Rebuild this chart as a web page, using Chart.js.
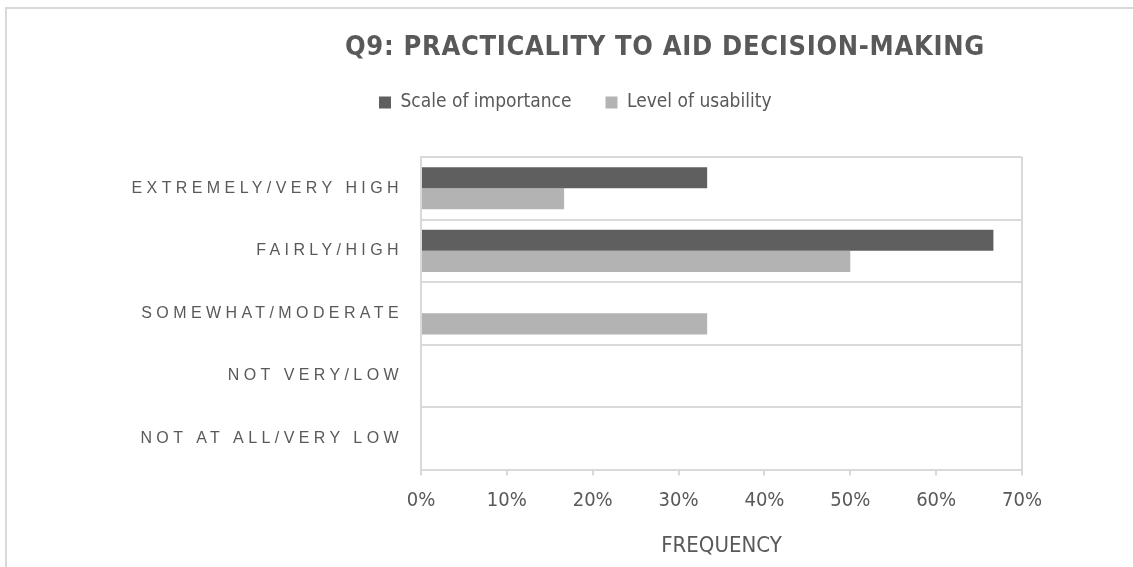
<!DOCTYPE html>
<html>
<head>
<meta charset="utf-8">
<script src="https://cdn.jsdelivr.net/npm/chart.js@4"></script>
<style>
  html, body { margin: 0; padding: 0; background: #fff; overflow: hidden; }
  #wrap { position: relative; width: 1133px; height: 567px; overflow: hidden; }
  #frame { position: absolute; left: 5px; top: 7px; width: 1300px; height: 700px;
           border-left: 2px solid #d9d9d9; border-top: 2px solid #d9d9d9; }
  #myChart { position: absolute; left: 0; top: 0; }
</style>
</head>
<body>
<div id="wrap">
  <div id="frame"></div>
  <canvas id="myChart" width="1133" height="567"></canvas>
</div>
<script>
var categorias = ['EXTREMELY/VERY HIGH', 'FAIRLY/HIGH', 'SOMEWHAT/MODERATE', 'NOT VERY/LOW', 'NOT AT ALL/VERY LOW'];
var importancia = [33.33, 66.67, 0, 0, 0];
var usabilidade = [16.67, 50, 33.33, 0, 0];
var eixo_min = 0;
var eixo_max = 70;
var eixo_passo = 10;

var narrow = "'Liberation Sans Narrow', 'Arial Narrow', 'DejaVu Sans Condensed', sans-serif";
var cinza = '#595959';
var linha = '#d9d9d9';

// letter spacing only for the title and the category labels
function comEspaco(obj, nome, ls){
    if(!obj || obj['_ls_' + nome]) return;
    var orig = obj[nome];
    obj[nome] = function(){
        var c = this.ctx;
        var antes = c.letterSpacing;
        c.letterSpacing = ls;
        orig.apply(this, arguments);
        c.letterSpacing = antes;
    };
    obj['_ls_' + nome] = true;
}

var espacamento = {
    id: 'espacamento',
    beforeDraw: function(chart){
        // labels go past the narrow y box, so no clipping there
        chart.scales.y._computeLabelArea = function(){ return undefined; };
        comEspaco(chart.scales.y, 'drawLabels', '4.4px');
        comEspaco(chart.titleBlock, 'draw', '0.7px');
    }
};

const ctx = document.getElementById('myChart').getContext('2d');
const myChart = new Chart(ctx, {
    type: 'bar',
    data: {
        labels: categorias,
        datasets: [{
            label: 'Scale of importance',
            data: importancia,
            backgroundColor: '#5f5f5f',
            borderWidth: 0
        }, {
            label: 'Level of usability',
            data: usabilidade,
            backgroundColor: '#b3b3b3',
            borderWidth: 0
        }]
    },
    options: {
        indexAxis: 'y',
        responsive: false,
        animation: false,
        devicePixelRatio: 1,
        layout: { padding: { left: 345, right: 111, top: 0, bottom: 4 } },
        datasets: { bar: { categoryPercentage: 0.675, barPercentage: 1 } },
        plugins: {
            title: {
                display: true,
                text: 'Q9: PRACTICALITY TO AID DECISION-MAKING',
                align: 'start',
                color: cinza,
                font: { family: narrow, size: 27, weight: 'bold', lineHeight: '10px' },
                padding: { top: 43, bottom: 6 }
            },
            legend: {
                display: true,
                align: 'start',
                labels: {
                    color: cinza,
                    boxWidth: 12,
                    boxHeight: 12,
                    padding: 34,
                    font: { family: narrow, size: 19 }
                }
            },
            tooltip: { enabled: false }
        },
        scales: {
            x: {
                type: 'linear',
                position: 'bottom',
                min: eixo_min,
                max: eixo_max,
                ticks: {
                    stepSize: eixo_passo,
                    color: cinza,
                    padding: 13,
                    font: { family: narrow, size: 20 },
                    callback: function(v){ return v + '%'; }
                },
                grid: {
                    color: function(c){
                        return (c.tick && (c.tick.value === eixo_min || c.tick.value === eixo_max)) ? linha : 'rgba(0,0,0,0)';
                    },
                    tickColor: linha,
                    tickLength: 6,
                    lineWidth: 2,
                    tickWidth: 2
                },
                border: { display: true, color: linha, width: 2 },
                title: {
                    display: true,
                    text: 'FREQUENCY',
                    color: cinza,
                    font: { family: narrow, size: 22 },
                    padding: { top: 7, bottom: 4 }
                }
            },
            topo: {
                type: 'linear',
                axis: 'x',
                position: 'top',
                ticks: { display: false },
                grid: { display: false },
                border: { display: false },
                afterFit: function(s){ s.height = 35; }
            },
            y: {
                type: 'category',
                offset: true,
                ticks: {
                    color: cinza,
                    padding: 18,
                    font: { family: "'Liberation Sans', Arial, sans-serif", size: 16 }
                },
                grid: {
                    offset: true,
                    color: linha,
                    lineWidth: 2,
                    drawTicks: false
                },
                border: { display: true, color: linha, width: 2 },
                afterFit: function(s){ s.width = 76; }
            }
        }
    },
    plugins: [espacamento]
});
</script>
</body>
</html>
